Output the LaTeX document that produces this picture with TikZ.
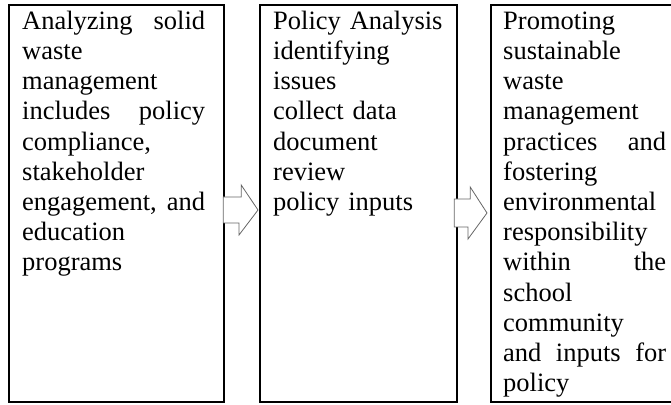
\documentclass[tikz,border=0pt]{standalone}
\usepackage{fontspec}
\setmainfont{Liberation Serif}
\usetikzlibrary{positioning,calc}
\tolerance=10000
\hbadness=10000

\begin{document}
\begin{tikzpicture}[x=1pt, y=1pt, line join=miter,
  box/.style={draw=black, line width=2.2pt, inner sep=0pt, anchor=north west, minimum height=397pt},
  boxtext/.style={anchor=north west, inner sep=0pt, align=justify,
    font=\fontsize{26.5}{30.2}\selectfont},
  blockarrow/.style={draw=black!60, fill=white, line width=0.8pt}]
\useasboundingbox (0,0) rectangle (671,404);

% the three boxes
\node[box, minimum width=215pt] (analysis) at (8,400) {};
\node[box, minimum width=197pt] (policy) at (259,400) {};
\node[box, minimum width=200pt] (outcome) at (490,400) {};

% box texts
\node[boxtext, text width=183pt] (analysistext) at ($(analysis.north west)+(14,-3.9)$)
  {\noindent\strut Analyzing solid\linebreak waste\linebreak management\linebreak includes policy\linebreak compliance,\linebreak stakeholder\linebreak engagement, and\linebreak education\linebreak programs};
\node[boxtext, text width=175pt, align=left] (policytext) at ($(policy.north west)+(14,-3.9)$)
  {\strut Policy Analysis\\identifying\\issues\\collect data\\document\\review\\policy inputs};
\node[boxtext, text width=163pt] (outcometext) at ($(outcome.north west)+(13,-3.9)$)
  {\noindent\strut Promoting\linebreak sustainable\linebreak waste\linebreak management\linebreak practices and\linebreak fostering\linebreak environmental\linebreak responsibility\linebreak within the\linebreak school\linebreak community\linebreak and inputs for\linebreak policy};

% block arrows between the boxes
\coordinate (arrowAtail) at ($(analysis.east |- 0,194)+(-2,0)$);
\coordinate (arrowAtip) at ($(policy.west |- 0,194)+(-1,0)$);
\draw[blockarrow] ([yshift=13pt]arrowAtail) -- ++(18,0) -- ++(0,12) -- (arrowAtip)
  -- ++(-19,-25) -- ++(0,12) -- ([yshift=-13pt]arrowAtail) -- cycle;

\coordinate (arrowBtail) at ($(policy.east |- 0,191)+(-4,0)$);
\coordinate (arrowBtip) at ($(outcome.west |- 0,191)+(-3,0)$);
\draw[blockarrow] ([yshift=14pt]arrowBtail) -- ++(16,0) -- ++(0,12) -- (arrowBtip)
  -- ++(-19,-26) -- ++(0,12) -- ([yshift=-14pt]arrowBtail) -- cycle;

\end{tikzpicture}
\end{document}
